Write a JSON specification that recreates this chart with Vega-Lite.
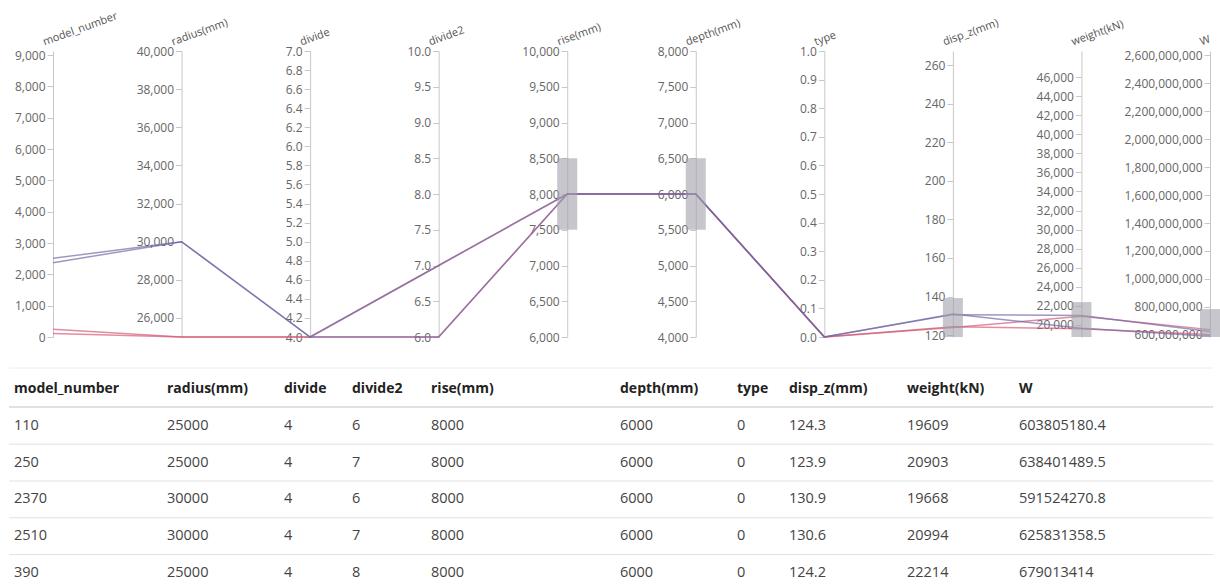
{
  "$schema": "https://vega.github.io/schema/vega-lite/v6.json",
  "padding": {"left": 8, "top": 9, "right": 0, "bottom": 0},
  "spacing": 5,
  "bounds": "flush",
  "datasets": {
    "rows": [
      {"model_number": 110, "radius": 25000, "divide": 4, "divide2": 6, "rise": 8000, "depth": 6000, "type": 0, "disp_z": 124.3, "weight": 19609, "W": 603805180.4},
      {"model_number": 250, "radius": 25000, "divide": 4, "divide2": 7, "rise": 8000, "depth": 6000, "type": 0, "disp_z": 123.9, "weight": 20903, "W": 638401489.5},
      {"model_number": 2370, "radius": 30000, "divide": 4, "divide2": 6, "rise": 8000, "depth": 6000, "type": 0, "disp_z": 130.9, "weight": 19668, "W": 591524270.8},
      {"model_number": 2510, "radius": 30000, "divide": 4, "divide2": 7, "rise": 8000, "depth": 6000, "type": 0, "disp_z": 130.6, "weight": 20994, "W": 625831358.5},
      {"model_number": 390, "radius": 25000, "divide": 4, "divide2": 8, "rise": 8000, "depth": 6000, "type": 0, "disp_z": 124.2, "weight": 22214, "W": 679013414}
    ],
    "dims": [
      {"key": "model_number", "label": "model_number", "idx": 0, "lo": 0, "hi": 9128},
      {"key": "radius", "label": "radius(mm)", "idx": 1, "lo": 25000, "hi": 40000},
      {"key": "divide", "label": "divide", "idx": 2, "lo": 4, "hi": 7},
      {"key": "divide2", "label": "divide2", "idx": 3, "lo": 6, "hi": 10},
      {"key": "rise", "label": "rise(mm)", "idx": 4, "lo": 6000, "hi": 10000, "blo": 7500, "bhi": 8500},
      {"key": "depth", "label": "depth(mm)", "idx": 5, "lo": 4000, "hi": 8000, "blo": 5500, "bhi": 6500},
      {"key": "type", "label": "type", "idx": 6, "lo": 0, "hi": 1},
      {"key": "disp_z", "label": "disp_z(mm)", "idx": 7, "lo": 119, "hi": 267.3, "blo": 119, "bhi": 139.2},
      {"key": "weight", "label": "weight(kN)", "idx": 8, "lo": 18740, "hi": 48730, "blo": 18740, "bhi": 22400},
      {"key": "W", "label": "W", "idx": 9, "lo": 585700000, "hi": 2628600000, "blo": 585700000, "bhi": 785000000}
    ]
  },
  "vconcat": [
    {
      "width": 1157,
      "height": 286,
      "resolve": {"scale": {"y": "independent"}, "axis": {"y": "independent"}},
      "layer": [
        {
          "data": {"name": "rows"},
          "transform": [
            {"filter": "datum.model_number != 390"},
            {"fold": ["model_number", "radius", "divide", "divide2", "rise", "depth", "type", "disp_z", "weight", "W"]},
            {"lookup": "key", "from": {"data": {"name": "dims"}, "key": "key", "fields": ["idx", "lo", "hi"]}},
            {"calculate": "(datum.value - datum.lo) / (datum.hi - datum.lo)", "as": "norm"}
          ],
          "mark": {"type": "line", "strokeWidth": 1.5, "opacity": 0.68},
          "encoding": {
            "x": {"field": "idx", "type": "quantitative", "scale": {"domain": [0, 9], "nice": false, "zero": false}, "axis": null},
            "y": {"field": "norm", "type": "quantitative", "scale": {"domain": [0, 1], "nice": false, "zero": false}, "axis": null},
            "detail": {"field": "model_number", "type": "nominal"},
            "color": {"field": "model_number", "type": "quantitative", "legend": null,
              "scale": {"domain": [0, 1000, 2000, 3000, 4000, 5000, 6000, 7000, 8000, 9000],
                        "range": ["#db5670", "#a8607f", "#7a62a0", "#6468a8", "#4667b7", "#2f67b7", "#2f82b1", "#2f9d82", "#46aa5a", "#5ab141"]}}
          }
        },
        {
          "data": {"name": "dims"},
          "transform": [{"filter": "datum.key == 'model_number'"}],
          "mark": {"type": "rect", "xOffset": -10, "x2Offset": 10, "fill": "#a0a0aa", "fillOpacity": 0.6},
          "encoding": {
            "x": {"field": "idx", "type": "quantitative", "scale": {"nice": false, "zero": false}, "axis": null},
            "x2": {"field": "idx"},
            "y": {"field": "blo", "type": "quantitative", "scale": {"domain": [0, 9128], "nice": false, "zero": false},
              "axis": {"orient": "left", "offset": 0, "title": "model_number", "format": ",.0f", "values": [0, 1000, 2000, 3000, 4000, 5000, 6000, 7000, 8000, 9000],
                "encode": {"labels": {"update": {"fill": {"signal": "scale('color', datum.value)"}, "fillOpacity": {"value": 0.6}}}}}},
            "y2": {"field": "bhi"}
          }
        },
        {
          "data": {"name": "dims"},
          "transform": [{"filter": "datum.key == 'radius'"}],
          "mark": {"type": "rect", "xOffset": -10, "x2Offset": 10, "fill": "#a0a0aa", "fillOpacity": 0.6},
          "encoding": {
            "x": {"field": "idx", "type": "quantitative", "scale": {"nice": false, "zero": false}, "axis": null},
            "x2": {"field": "idx"},
            "y": {"field": "blo", "type": "quantitative", "scale": {"domain": [25000, 40000], "nice": false, "zero": false},
              "axis": {"orient": "left", "offset": -128.56, "title": "radius(mm)", "format": ",.0f", "values": [26000, 28000, 30000, 32000, 34000, 36000, 38000, 40000]}},
            "y2": {"field": "bhi"}
          }
        },
        {
          "data": {"name": "dims"},
          "transform": [{"filter": "datum.key == 'divide'"}],
          "mark": {"type": "rect", "xOffset": -10, "x2Offset": 10, "fill": "#a0a0aa", "fillOpacity": 0.6},
          "encoding": {
            "x": {"field": "idx", "type": "quantitative", "scale": {"nice": false, "zero": false}, "axis": null},
            "x2": {"field": "idx"},
            "y": {"field": "blo", "type": "quantitative", "scale": {"domain": [4, 7], "nice": false, "zero": false},
              "axis": {"orient": "left", "offset": -257.11, "title": "divide", "format": ".1f", "values": [4, 4.2, 4.4, 4.6, 4.8, 5, 5.2, 5.4, 5.6, 5.8, 6, 6.2, 6.4, 6.6, 6.8, 7]}},
            "y2": {"field": "bhi"}
          }
        },
        {
          "data": {"name": "dims"},
          "transform": [{"filter": "datum.key == 'divide2'"}],
          "mark": {"type": "rect", "xOffset": -10, "x2Offset": 10, "fill": "#a0a0aa", "fillOpacity": 0.6},
          "encoding": {
            "x": {"field": "idx", "type": "quantitative", "scale": {"nice": false, "zero": false}, "axis": null},
            "x2": {"field": "idx"},
            "y": {"field": "blo", "type": "quantitative", "scale": {"domain": [6, 10], "nice": false, "zero": false},
              "axis": {"orient": "left", "offset": -385.67, "title": "divide2", "format": ".1f", "values": [6, 6.5, 7, 7.5, 8, 8.5, 9, 9.5, 10]}},
            "y2": {"field": "bhi"}
          }
        },
        {
          "data": {"name": "dims"},
          "transform": [{"filter": "datum.key == 'rise'"}],
          "mark": {"type": "rect", "xOffset": -10, "x2Offset": 10, "fill": "#a0a0aa", "fillOpacity": 0.6},
          "encoding": {
            "x": {"field": "idx", "type": "quantitative", "scale": {"nice": false, "zero": false}, "axis": null},
            "x2": {"field": "idx"},
            "y": {"field": "blo", "type": "quantitative", "scale": {"domain": [6000, 10000], "nice": false, "zero": false},
              "axis": {"orient": "left", "offset": -514.22, "title": "rise(mm)", "format": ",.0f", "values": [6000, 6500, 7000, 7500, 8000, 8500, 9000, 9500, 10000]}},
            "y2": {"field": "bhi"}
          }
        },
        {
          "data": {"name": "dims"},
          "transform": [{"filter": "datum.key == 'depth'"}],
          "mark": {"type": "rect", "xOffset": -10, "x2Offset": 10, "fill": "#a0a0aa", "fillOpacity": 0.6},
          "encoding": {
            "x": {"field": "idx", "type": "quantitative", "scale": {"nice": false, "zero": false}, "axis": null},
            "x2": {"field": "idx"},
            "y": {"field": "blo", "type": "quantitative", "scale": {"domain": [4000, 8000], "nice": false, "zero": false},
              "axis": {"orient": "left", "offset": -642.78, "title": "depth(mm)", "format": ",.0f", "values": [4000, 4500, 5000, 5500, 6000, 6500, 7000, 7500, 8000]}},
            "y2": {"field": "bhi"}
          }
        },
        {
          "data": {"name": "dims"},
          "transform": [{"filter": "datum.key == 'type'"}],
          "mark": {"type": "rect", "xOffset": -10, "x2Offset": 10, "fill": "#a0a0aa", "fillOpacity": 0.6},
          "encoding": {
            "x": {"field": "idx", "type": "quantitative", "scale": {"nice": false, "zero": false}, "axis": null},
            "x2": {"field": "idx"},
            "y": {"field": "blo", "type": "quantitative", "scale": {"domain": [0, 1], "nice": false, "zero": false},
              "axis": {"orient": "left", "offset": -771.33, "title": "type", "format": ".1f", "values": [0, 0.1, 0.2, 0.3, 0.4, 0.5, 0.6, 0.7, 0.8, 0.9, 1]}},
            "y2": {"field": "bhi"}
          }
        },
        {
          "data": {"name": "dims"},
          "transform": [{"filter": "datum.key == 'disp_z'"}],
          "mark": {"type": "rect", "xOffset": -10, "x2Offset": 10, "fill": "#a0a0aa", "fillOpacity": 0.6},
          "encoding": {
            "x": {"field": "idx", "type": "quantitative", "scale": {"nice": false, "zero": false}, "axis": null},
            "x2": {"field": "idx"},
            "y": {"field": "blo", "type": "quantitative", "scale": {"domain": [119, 267.3], "nice": false, "zero": false},
              "axis": {"orient": "left", "offset": -899.89, "title": "disp_z(mm)", "format": ",.0f", "values": [120, 140, 160, 180, 200, 220, 240, 260]}},
            "y2": {"field": "bhi"}
          }
        },
        {
          "data": {"name": "dims"},
          "transform": [{"filter": "datum.key == 'weight'"}],
          "mark": {"type": "rect", "xOffset": -10, "x2Offset": 10, "fill": "#a0a0aa", "fillOpacity": 0.6},
          "encoding": {
            "x": {"field": "idx", "type": "quantitative", "scale": {"nice": false, "zero": false}, "axis": null},
            "x2": {"field": "idx"},
            "y": {"field": "blo", "type": "quantitative", "scale": {"domain": [18740, 48730], "nice": false, "zero": false},
              "axis": {"orient": "left", "offset": -1028.44, "title": "weight(kN)", "format": ",.0f", "values": [20000, 22000, 24000, 26000, 28000, 30000, 32000, 34000, 36000, 38000, 40000, 42000, 44000, 46000]}},
            "y2": {"field": "bhi"}
          }
        },
        {
          "data": {"name": "dims"},
          "transform": [{"filter": "datum.key == 'W'"}],
          "mark": {"type": "rect", "xOffset": -10, "x2Offset": 10, "fill": "#a0a0aa", "fillOpacity": 0.6},
          "encoding": {
            "x": {"field": "idx", "type": "quantitative", "scale": {"nice": false, "zero": false}, "axis": null},
            "x2": {"field": "idx"},
            "y": {"field": "blo", "type": "quantitative", "scale": {"domain": [585700000, 2628600000], "nice": false, "zero": false},
              "axis": {"orient": "left", "offset": -1157, "title": "W", "format": ",.0f", "values": [600000000, 800000000, 1000000000, 1200000000, 1400000000, 1600000000, 1800000000, 2000000000, 2200000000, 2400000000, 2600000000]}},
            "y2": {"field": "bhi"}
          }
        }
      ]
    },
    {
      "width": 1157,
      "height": 244,
      "layer": [
        {
          "data": {"name": "dims"},
          "mark": {"type": "text", "align": "left", "baseline": "middle", "fontWeight": "bold", "fontSize": 14, "color": "#222"},
          "encoding": {
            "x": {"field": "idx", "type": "quantitative", "axis": null,
              "scale": {"domain": [-1, 0, 1, 2, 3, 4, 5, 6, 7, 8, 9, 10], "range": [-44, -39, 114, 231, 299, 378, 567, 684, 736, 854, 966, 1160], "nice": false, "zero": false}},
            "y": {"datum": 0, "type": "quantitative", "axis": null, "scale": {"domain": [0, 5], "range": [47, 231], "nice": false, "zero": false}},
            "text": {"field": "label", "type": "nominal"}
          }
        },
        {
          "data": {"name": "rows"},
          "transform": [
            {"window": [{"op": "row_number", "as": "rn"}]},
            {"fold": ["model_number", "radius", "divide", "divide2", "rise", "depth", "type", "disp_z", "weight", "W"]},
            {"lookup": "key", "from": {"data": {"name": "dims"}, "key": "key", "fields": ["idx"]}}
          ],
          "mark": {"type": "text", "align": "left", "baseline": "middle", "fontSize": 14.5, "color": "#444"},
          "encoding": {
            "x": {"field": "idx", "type": "quantitative", "axis": null},
            "y": {"field": "rn", "type": "quantitative", "axis": null},
            "text": {"field": "value", "type": "nominal"}
          }
        },
        {
          "data": {"name": "rows"},
          "transform": [{"window": [{"op": "row_number", "as": "rn"}]}],
          "mark": {"type": "rule", "yOffset": 18.4, "color": "#dee2e6", "strokeWidth": 1},
          "encoding": {
            "x": {"datum": -1, "type": "quantitative"},
            "x2": {"datum": 10},
            "y": {"field": "rn", "type": "quantitative"}
          }
        },
        {
          "data": {"name": "dims"},
          "transform": [{"filter": "datum.idx == 0"}],
          "mark": {"type": "rule", "yOffset": 18, "color": "#dee2e6", "strokeWidth": 2},
          "encoding": {
            "x": {"datum": -1, "type": "quantitative"},
            "x2": {"datum": 10},
            "y": {"datum": 0, "type": "quantitative"}
          }
        },
        {
          "data": {"name": "dims"},
          "transform": [{"filter": "datum.idx == 0"}],
          "mark": {"type": "rule", "yOffset": -21, "color": "#eceef0", "strokeWidth": 1},
          "encoding": {
            "x": {"datum": -1, "type": "quantitative"},
            "x2": {"datum": 10},
            "y": {"datum": 0, "type": "quantitative"}
          }
        }
      ]
    }
  ],
  "config": {
    "view": {"stroke": null},
    "font": "Open Sans",
    "axis": {
      "domainColor": "#c8c8c8",
      "tickColor": "#c8c8c8",
      "tickSize": 6,
      "labelColor": "#666",
      "labelFontSize": 12,
      "labelPadding": 2,
      "labelFlush": false,
      "labelBound": false,
      "labelOverlap": false,
      "grid": false,
      "zindex": 0,
      "titleFontSize": 11,
      "titleFontWeight": "normal",
      "titleColor": "#555",
      "titleAngle": -20,
      "titleAlign": "left",
      "titleBaseline": "alphabetic",
      "titleX": -9,
      "titleY": -6
    }
  }
}
